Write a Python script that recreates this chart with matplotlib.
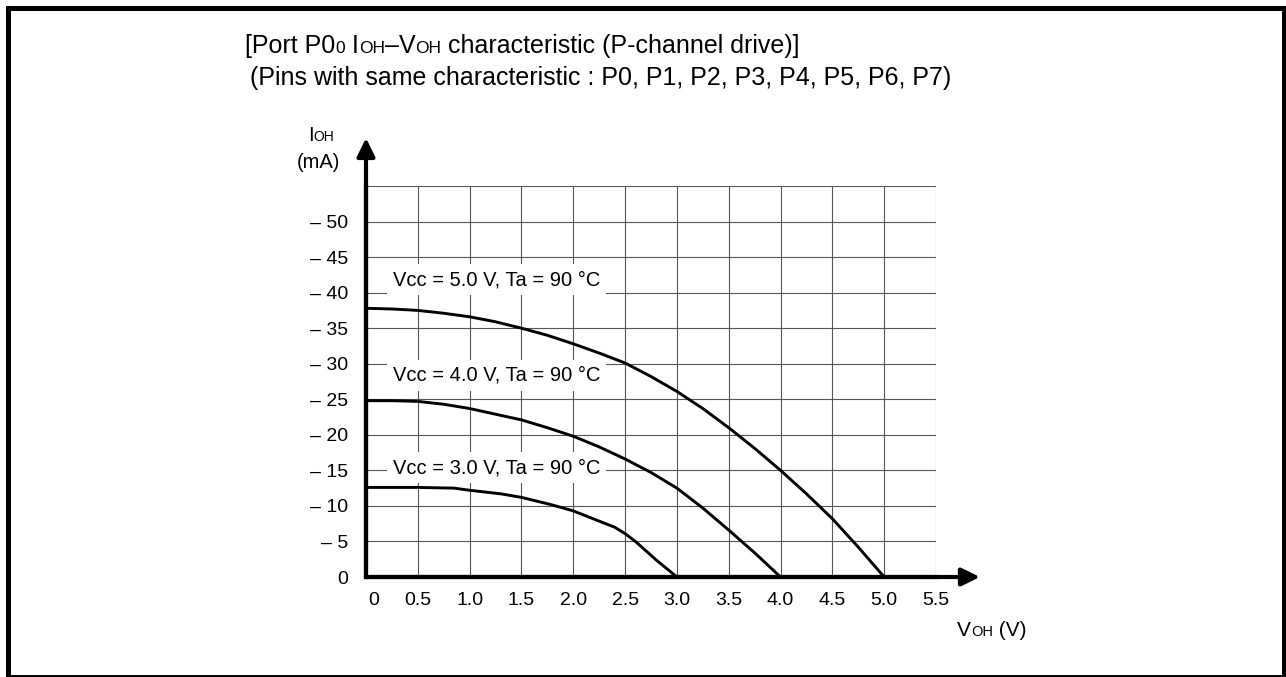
import matplotlib.pyplot as plt
from matplotlib.patches import Rectangle
from matplotlib.transforms import ScaledTranslation

plt.rcParams['font.family'] = ['Liberation Sans', 'DejaVu Sans']

W, H = 1286, 677

# |IOH| (mA) vs VOH (V)
voh_5v = [0, 0.25, 0.5, 0.75, 1.0, 1.25, 1.5, 1.75, 2.0, 2.25, 2.5, 2.75, 3.0,
          3.25, 3.5, 3.75, 4.0, 4.25, 4.5, 4.75, 5.0]
ioh_5v = [37.8, 37.7, 37.5, 37.1, 36.6, 35.9, 35.0, 34.0, 32.8, 31.5, 30.1, 28.2, 26.1,
          23.7, 21.0, 18.1, 15.0, 11.7, 8.2, 4.2, 0]

voh_4v = [0, 0.25, 0.5, 0.75, 1.0, 1.25, 1.5, 1.75, 2.0, 2.25, 2.5, 2.75, 3.0,
          3.25, 3.5, 3.75, 4.0]
ioh_4v = [24.8, 24.8, 24.7, 24.3, 23.7, 22.9, 22.1, 21.0, 19.8, 18.3, 16.6, 14.7, 12.5,
          9.7, 6.6, 3.4, 0]

voh_3v = [0, 0.5, 0.85, 1.0, 1.3, 1.5, 1.78, 2.0, 2.26, 2.4, 2.5, 2.6, 2.7, 2.8, 3.0]
ioh_3v = [12.6, 12.6, 12.5, 12.2, 11.7, 11.2, 10.2, 9.3, 7.8, 7.0, 6.1, 5.0, 3.7, 2.4, 0]

curve_labels = ["Vcc = 5.0 V, Ta = 90 °C",
                "Vcc = 4.0 V, Ta = 90 °C",
                "Vcc = 3.0 V, Ta = 90 °C"]

x_ticks = [0, 0.5, 1.0, 1.5, 2.0, 2.5, 3.0, 3.5, 4.0, 4.5, 5.0, 5.5]
x_tick_labels = ["0", "0.5", "1.0", "1.5", "2.0", "2.5", "3.0", "3.5", "4.0", "4.5", "5.0", "5.5"]
y_ticks = [0, 5, 10, 15, 20, 25, 30, 35, 40, 45, 50, 55]
y_tick_labels = ["0", "– 5", "– 10", "– 15", "– 20", "– 25", "– 30", "– 35", "– 40", "– 45", "– 50", ""]


def rich_text(fig, x_px, y_px, parts):
    # pieces of text of mixed size, sharing one baseline
    r = fig.canvas.get_renderer()
    for s, size in parts:
        t = fig.text(x_px / W, 1 - y_px / H, s, fontsize=size, va='baseline', ha='left')
        x_px += t.get_window_extent(r).width


fig = plt.figure(figsize=(W / 100, H / 100), dpi=100)
ax = fig.add_axes([366 / W, 1 - 577 / H, 570 / W, 391 / H])

for v, i in [(voh_5v, ioh_5v), (voh_4v, ioh_4v), (voh_3v, ioh_3v)]:
    ax.plot(v, i, color='black', lw=2.1, solid_joinstyle='round', zorder=4)

for lab, y in zip(curve_labels, [41.8, 28.4, 15.4]):
    ax.text(0.26, y, lab, fontsize=14.5, va='center', ha='left', zorder=3,
            bbox=dict(boxstyle='square,pad=0.3', fc='white', ec='none'))

ax.set_xlim(0, 5.5)
ax.set_ylim(0, 55)
ax.set_xticks(x_ticks)
ax.set_xticklabels(x_tick_labels, fontsize=14)
ax.set_yticks(y_ticks)
ax.set_yticklabels(y_tick_labels, fontsize=14)
ax.tick_params(length=0, pad=13)
ax.tick_params(axis='x', pad=11)
ax.get_xticklabels()[0].set_transform(ax.get_xticklabels()[0].get_transform()
                                      + ScaledTranslation(0.08, 0, fig.dpi_scale_trans))
ax.grid(True, color='#555555', lw=0.8)
ax.set_axisbelow(True)
for s in ['top', 'right']:
    ax.spines[s].set_visible(False)
for s in ['left', 'bottom']:
    ax.spines[s].set_linewidth(3)

arrow = dict(arrowstyle='-|>,head_length=0.55,head_width=0.27', color='black',
             lw=3, mutation_scale=20, shrinkA=0, shrinkB=0)
ax.annotate('', xy=(5.924, 0), xytext=(0, 0), arrowprops=arrow, annotation_clip=False)
ax.annotate('', xy=(0, 61.75), xytext=(0, 0), arrowprops=arrow, annotation_clip=False)

rich_text(fig, 245, 53, [("[Port P0", 18), ("0", 12.5), (" I", 18), ("OH", 12.5),
                         ("–V", 18), ("OH", 12.5), (" characteristic (P-channel drive)]", 18)])
fig.text(250 / W, 1 - 85 / H, "(Pins with same characteristic : P0, P1, P2, P3, P4, P5, P6, P7)",
         fontsize=18, va='baseline', ha='left')

rich_text(fig, 308, 141, [("I", 14.5), ("OH", 10)])
fig.text(297 / W, 1 - 163 / H, "(mA)", fontsize=14.5, va='center', ha='left')
rich_text(fig, 957, 636, [("V", 15), ("OH", 10.5), (" (V)", 15)])

fig.patches.append(Rectangle((7.5 / W, 0.5 / H), 1276 / W, 669 / H, transform=fig.transFigure,
                             fill=False, ec='black', lw=3.6))

fig.savefig('out.png', dpi=100)
